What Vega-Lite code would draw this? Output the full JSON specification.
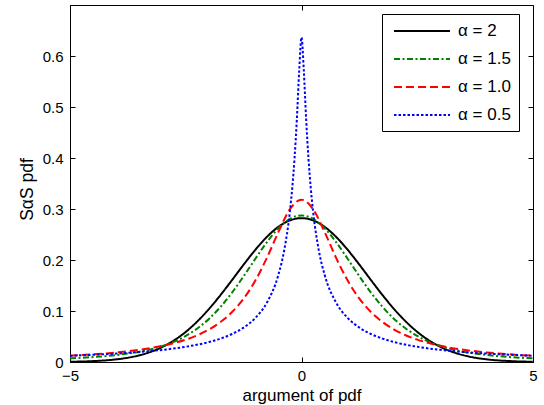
{
  "$schema": "https://vega.github.io/schema/vega-lite/v6.json",
  "width": 463,
  "height": 357,
  "autosize": {"type": "none"},
  "padding": {"left": 70, "top": 5, "right": 11, "bottom": 43},
  "background": "white",
  "config": {
    "view": {"stroke": "black", "strokeWidth": 1},
    "font": "Liberation Sans",
    "axis": {
      "grid": false,
      "domainColor": "black",
      "tickColor": "black",
      "labelColor": "black",
      "titleColor": "black",
      "labelFont": "Liberation Sans",
      "titleFont": "Liberation Sans",
      "labelFontSize": 15,
      "titleFontSize": 17,
      "titleFontWeight": "normal"
    }
  },
  "data": {
    "values": [
      {"a": "α = 2", "x": -5, "y": 0.0005}, {"a": "α = 2", "x": -4.5, "y": 0.0018}, {"a": "α = 2", "x": -4, "y": 0.0052}, {"a": "α = 2", "x": -3.75, "y": 0.0084}, {"a": "α = 2", "x": -3.5, "y": 0.0132}, {"a": "α = 2", "x": -3.25, "y": 0.0201}, {"a": "α = 2", "x": -3, "y": 0.0297}, {"a": "α = 2", "x": -2.75, "y": 0.0426}, {"a": "α = 2", "x": -2.5, "y": 0.0591}, {"a": "α = 2", "x": -2.25, "y": 0.0796}, {"a": "α = 2", "x": -2, "y": 0.1038}, {"a": "α = 2", "x": -1.75, "y": 0.1312}, {"a": "α = 2", "x": -1.5, "y": 0.1607}, {"a": "α = 2", "x": -1.25, "y": 0.1909}, {"a": "α = 2", "x": -1, "y": 0.2197}, {"a": "α = 2", "x": -0.75, "y": 0.2451}, {"a": "α = 2", "x": -0.5, "y": 0.265}, {"a": "α = 2", "x": -0.25, "y": 0.2777}, {"a": "α = 2", "x": 0, "y": 0.2821}, {"a": "α = 2", "x": 0.25, "y": 0.2777}, {"a": "α = 2", "x": 0.5, "y": 0.265}, {"a": "α = 2", "x": 0.75, "y": 0.2451}, {"a": "α = 2", "x": 1, "y": 0.2197}, {"a": "α = 2", "x": 1.25, "y": 0.1909}, {"a": "α = 2", "x": 1.5, "y": 0.1607}, {"a": "α = 2", "x": 1.75, "y": 0.1312}, {"a": "α = 2", "x": 2, "y": 0.1038}, {"a": "α = 2", "x": 2.25, "y": 0.0796}, {"a": "α = 2", "x": 2.5, "y": 0.0591}, {"a": "α = 2", "x": 2.75, "y": 0.0426}, {"a": "α = 2", "x": 3, "y": 0.0297}, {"a": "α = 2", "x": 3.25, "y": 0.0201}, {"a": "α = 2", "x": 3.5, "y": 0.0132}, {"a": "α = 2", "x": 3.75, "y": 0.0084}, {"a": "α = 2", "x": 4, "y": 0.0052}, {"a": "α = 2", "x": 4.5, "y": 0.0018}, {"a": "α = 2", "x": 5, "y": 0.0005},

      {"a": "α = 1.5", "x": -5, "y": 0.0071}, {"a": "α = 1.5", "x": -4.5, "y": 0.0097}, {"a": "α = 1.5", "x": -4, "y": 0.0137}, {"a": "α = 1.5", "x": -3.5, "y": 0.0202}, {"a": "α = 1.5", "x": -3, "y": 0.0315}, {"a": "α = 1.5", "x": -2.5, "y": 0.0511}, {"a": "α = 1.5", "x": -2.25, "y": 0.0658}, {"a": "α = 1.5", "x": -2, "y": 0.0845}, {"a": "α = 1.5", "x": -1.75, "y": 0.108}, {"a": "α = 1.5", "x": -1.5, "y": 0.1361}, {"a": "α = 1.5", "x": -1.25, "y": 0.1681}, {"a": "α = 1.5", "x": -1, "y": 0.202}, {"a": "α = 1.5", "x": -0.75, "y": 0.2347}, {"a": "α = 1.5", "x": -0.5, "y": 0.2623}, {"a": "α = 1.5", "x": -0.25, "y": 0.2808}, {"a": "α = 1.5", "x": 0, "y": 0.2874}, {"a": "α = 1.5", "x": 0.25, "y": 0.2808}, {"a": "α = 1.5", "x": 0.5, "y": 0.2623}, {"a": "α = 1.5", "x": 0.75, "y": 0.2347}, {"a": "α = 1.5", "x": 1, "y": 0.202}, {"a": "α = 1.5", "x": 1.25, "y": 0.1681}, {"a": "α = 1.5", "x": 1.5, "y": 0.1361}, {"a": "α = 1.5", "x": 1.75, "y": 0.108}, {"a": "α = 1.5", "x": 2, "y": 0.0845}, {"a": "α = 1.5", "x": 2.25, "y": 0.0658}, {"a": "α = 1.5", "x": 2.5, "y": 0.0511}, {"a": "α = 1.5", "x": 3, "y": 0.0315}, {"a": "α = 1.5", "x": 3.5, "y": 0.0202}, {"a": "α = 1.5", "x": 4, "y": 0.0137}, {"a": "α = 1.5", "x": 4.5, "y": 0.0097}, {"a": "α = 1.5", "x": 5, "y": 0.0071},

      {"a": "α = 1.0", "x": -5, "y": 0.0122}, {"a": "α = 1.0", "x": -4.5, "y": 0.015}, {"a": "α = 1.0", "x": -4, "y": 0.0187}, {"a": "α = 1.0", "x": -3.5, "y": 0.024}, {"a": "α = 1.0", "x": -3, "y": 0.0318}, {"a": "α = 1.0", "x": -2.75, "y": 0.0372}, {"a": "α = 1.0", "x": -2.5, "y": 0.0439}, {"a": "α = 1.0", "x": -2.25, "y": 0.0525}, {"a": "α = 1.0", "x": -2, "y": 0.0637}, {"a": "α = 1.0", "x": -1.75, "y": 0.0784}, {"a": "α = 1.0", "x": -1.5, "y": 0.0979}, {"a": "α = 1.0", "x": -1.25, "y": 0.1242}, {"a": "α = 1.0", "x": -1, "y": 0.1592}, {"a": "α = 1.0", "x": -0.75, "y": 0.2037}, {"a": "α = 1.0", "x": -0.5, "y": 0.2546}, {"a": "α = 1.0", "x": -0.25, "y": 0.2996}, {"a": "α = 1.0", "x": 0, "y": 0.3183}, {"a": "α = 1.0", "x": 0.25, "y": 0.2996}, {"a": "α = 1.0", "x": 0.5, "y": 0.2546}, {"a": "α = 1.0", "x": 0.75, "y": 0.2037}, {"a": "α = 1.0", "x": 1, "y": 0.1592}, {"a": "α = 1.0", "x": 1.25, "y": 0.1242}, {"a": "α = 1.0", "x": 1.5, "y": 0.0979}, {"a": "α = 1.0", "x": 1.75, "y": 0.0784}, {"a": "α = 1.0", "x": 2, "y": 0.0637}, {"a": "α = 1.0", "x": 2.25, "y": 0.0525}, {"a": "α = 1.0", "x": 2.5, "y": 0.0439}, {"a": "α = 1.0", "x": 2.75, "y": 0.0372}, {"a": "α = 1.0", "x": 3, "y": 0.0318}, {"a": "α = 1.0", "x": 3.5, "y": 0.024}, {"a": "α = 1.0", "x": 4, "y": 0.0187}, {"a": "α = 1.0", "x": 4.5, "y": 0.015}, {"a": "α = 1.0", "x": 5, "y": 0.0122},

      {"a": "α = 0.5", "x": -5, "y": 0.0123}, {"a": "α = 0.5", "x": -4.5, "y": 0.0142}, {"a": "α = 0.5", "x": -4, "y": 0.0165}, {"a": "α = 0.5", "x": -3.5, "y": 0.0196}, {"a": "α = 0.5", "x": -3, "y": 0.0238}, {"a": "α = 0.5", "x": -2.5, "y": 0.0299}, {"a": "α = 0.5", "x": -2, "y": 0.0391}, {"a": "α = 0.5", "x": -1.75, "y": 0.0459}, {"a": "α = 0.5", "x": -1.5, "y": 0.0549}, {"a": "α = 0.5", "x": -1.25, "y": 0.0675}, {"a": "α = 0.5", "x": -1, "y": 0.0861}, {"a": "α = 0.5", "x": -0.75, "y": 0.1161}, {"a": "α = 0.5", "x": -0.5, "y": 0.1708}, {"a": "α = 0.5", "x": -0.375, "y": 0.2184}, {"a": "α = 0.5", "x": -0.25, "y": 0.2956}, {"a": "α = 0.5", "x": -0.2, "y": 0.3412}, {"a": "α = 0.5", "x": -0.15, "y": 0.3999}, {"a": "α = 0.5", "x": -0.1, "y": 0.4765}, {"a": "α = 0.5", "x": -0.05, "y": 0.571}, {"a": "α = 0.5", "x": 0, "y": 0.6366}, {"a": "α = 0.5", "x": 0.05, "y": 0.571}, {"a": "α = 0.5", "x": 0.1, "y": 0.4765}, {"a": "α = 0.5", "x": 0.15, "y": 0.3999}, {"a": "α = 0.5", "x": 0.2, "y": 0.3412}, {"a": "α = 0.5", "x": 0.25, "y": 0.2956}, {"a": "α = 0.5", "x": 0.375, "y": 0.2184}, {"a": "α = 0.5", "x": 0.5, "y": 0.1708}, {"a": "α = 0.5", "x": 0.75, "y": 0.1161}, {"a": "α = 0.5", "x": 1, "y": 0.0861}, {"a": "α = 0.5", "x": 1.25, "y": 0.0675}, {"a": "α = 0.5", "x": 1.5, "y": 0.0549}, {"a": "α = 0.5", "x": 1.75, "y": 0.0459}, {"a": "α = 0.5", "x": 2, "y": 0.0391}, {"a": "α = 0.5", "x": 2.5, "y": 0.0299}, {"a": "α = 0.5", "x": 3, "y": 0.0238}, {"a": "α = 0.5", "x": 3.5, "y": 0.0196}, {"a": "α = 0.5", "x": 4, "y": 0.0165}, {"a": "α = 0.5", "x": 4.5, "y": 0.0142}, {"a": "α = 0.5", "x": 5, "y": 0.0123}
    ]
  },
  "layer": [
    {
      "mark": {"type": "line", "interpolate": "monotone", "clip": true},
      "encoding": {
        "x": {
          "field": "x", "type": "quantitative",
          "scale": {"domain": [-5, 5], "nice": false, "zero": false},
          "axis": {"orient": "bottom", "values": [-5, 0, 5], "title": "argument of pdf", "labelFlush": false, "ticks": false, "labelPadding": 6, "titleBaseline": "alphabetic", "titleY": 38}
        },
        "y": {
          "field": "y", "type": "quantitative",
          "scale": {"domain": [0, 0.7], "nice": false},
          "axis": {"orient": "left", "values": [0, 0.1, 0.2, 0.3, 0.4, 0.5, 0.6], "title": "SαS pdf", "format": "~g", "ticks": false, "labelPadding": 7, "titleX": -43, "titleY": 184, "titleAngle": -90, "titleAlign": "center", "titleBaseline": "middle", "titleFontSize": 17.5}
        },
        "color": {
          "field": "a", "type": "nominal",
          "scale": {"domain": ["α = 2", "α = 1.5", "α = 1.0", "α = 0.5"], "range": ["#000000", "#008000", "#ff0000", "#0000ff"]},
          "legend": {
            "orient": "none",
            "legendX": 312,
            "legendY": 9,
            "title": null,
            "strokeColor": "black",
            "fillColor": "white",
            "padding": 8,
            "symbolType": "M-0.625,0H6.375",
            "symbolSize": 256,
            "symbolStrokeWidth": 2,
            "labelFont": "Liberation Sans",
            "labelFontSize": 17,
            "labelColor": "black",
            "labelOffset": 50,
            "rowPadding": 11,
            "cornerRadius": 0
          }
        },
        "strokeDash": {
          "field": "a", "type": "nominal",
          "scale": {"domain": ["α = 2", "α = 1.5", "α = 1.0", "α = 0.5"], "range": [[1, 0], [6, 2.5, 2, 2.5], [8, 4], [2.5, 2]]}
        },
        "strokeWidth": {
          "field": "a", "type": "nominal",
          "scale": {"domain": ["α = 2", "α = 1.5", "α = 1.0", "α = 0.5"], "range": [2, 2, 2, 2.5]},
          "legend": null
        }
      }
    },
    {
      "mark": {"type": "point", "opacity": 0},
      "encoding": {
        "x": {
          "field": "x", "type": "quantitative",
          "scale": {"domain": [-5, 5], "nice": false, "zero": false},
          "axis": {"orient": "bottom", "offset": -5, "values": [-5, 0, 5], "labels": false, "title": null, "domain": false, "tickSize": 5}
        },
        "y": {
          "field": "y", "type": "quantitative",
          "scale": {"domain": [0, 0.7], "nice": false},
          "axis": {"orient": "left", "offset": -5, "values": [0, 0.1, 0.2, 0.3, 0.4, 0.5, 0.6], "labels": false, "title": null, "domain": false, "tickSize": 5}
        }
      }
    },
    {
      "mark": {"type": "point", "opacity": 0},
      "encoding": {
        "x": {
          "field": "x", "type": "quantitative",
          "scale": {"domain": [-5, 5], "nice": false, "zero": false},
          "axis": {"orient": "top", "offset": -5, "values": [-5, 0, 5], "labels": false, "title": null, "domain": false, "tickSize": 5}
        },
        "y": {
          "field": "y", "type": "quantitative",
          "scale": {"domain": [0, 0.7], "nice": false},
          "axis": {"orient": "right", "offset": -5, "values": [0, 0.1, 0.2, 0.3, 0.4, 0.5, 0.6], "labels": false, "title": null, "domain": false, "tickSize": 5}
        }
      }
    }
  ],
  "resolve": {"axis": {"x": "independent", "y": "independent"}}
}
